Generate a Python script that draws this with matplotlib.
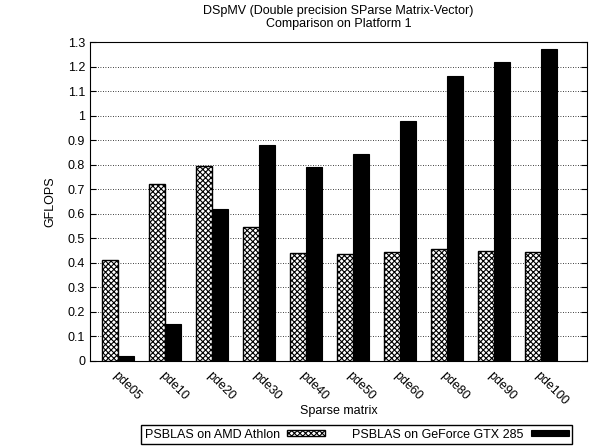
import matplotlib
matplotlib.use("Agg")
import matplotlib.pyplot as plt
import numpy as np

# ── Data ──────────────────────────────────────────────────────────────────────
matrices = ["pde05", "pde10", "pde20", "pde30", "pde40",
            "pde50", "pde60", "pde80", "pde90", "pde100"]
athlon = [0.41, 0.72, 0.795, 0.545, 0.44, 0.435, 0.445, 0.455, 0.45, 0.445]
gtx285 = [0.02, 0.15, 0.62, 0.88, 0.79, 0.845, 0.98, 1.16, 1.22, 1.27]
yticks = [0, 0.1, 0.2, 0.3, 0.4, 0.5, 0.6, 0.7, 0.8, 0.9, 1, 1.1, 1.2, 1.3]

plt.rcParams["font.family"] = ["Liberation Sans", "DejaVu Sans"]
plt.rcParams["hatch.linewidth"] = 0.8

fig = plt.figure(figsize=(5.95, 4.47), dpi=100)
ax = fig.add_axes([0.1513, 0.1924, 0.8353, 0.7136])

x = np.arange(len(matrices))
w = 0.34
ax.bar(x - w / 2, athlon, w, color="white", edgecolor="black", hatch="xxxxxx",
       lw=1.0, label="PSBLAS on AMD Athlon", zorder=3)
ax.bar(x + w / 2, gtx285, w, color="black", edgecolor="black",
       lw=0.8, label="PSBLAS on GeForce GTX 285", zorder=3)

ax.set_xlim(-0.6, 9.98)
ax.set_ylim(0, 1.3)
ax.set_yticks(yticks)
ax.set_yticklabels([f"{v:g}" for v in yticks])
ax.set_xticks(x)
ax.set_xticklabels(matrices, rotation=-45, ha="left", va="top",
                   rotation_mode="anchor")
ax.tick_params(axis="y", direction="in", right=True, length=4, labelsize=9)
ax.tick_params(axis="x", direction="in", top=False, length=4, labelsize=9, pad=6)
ax.grid(axis="y", color="black", ls=(0, (1, 2)), lw=0.6, zorder=0)

ax.set_xlabel("Sparse matrix", fontsize=9)
ax.xaxis.set_label_coords(0.5, -0.138)
ax.set_ylabel("GFLOPS", fontsize=9, labelpad=8)
ax.set_title("DSpMV (Double precision SParse Matrix-Vector)\nComparison on Platform 1",
             fontsize=9, pad=11, linespacing=1.1)

fig.legend(loc="lower right", bbox_to_anchor=(0.962, 0.006), ncol=2,
           fontsize=9, markerfirst=False, fancybox=False, edgecolor="black",
           framealpha=1, handlelength=3.0, handleheight=0.35,
           borderpad=0.3, borderaxespad=0, columnspacing=2.2,
           handletextpad=0.6)

fig.savefig("out.png", dpi=100)
